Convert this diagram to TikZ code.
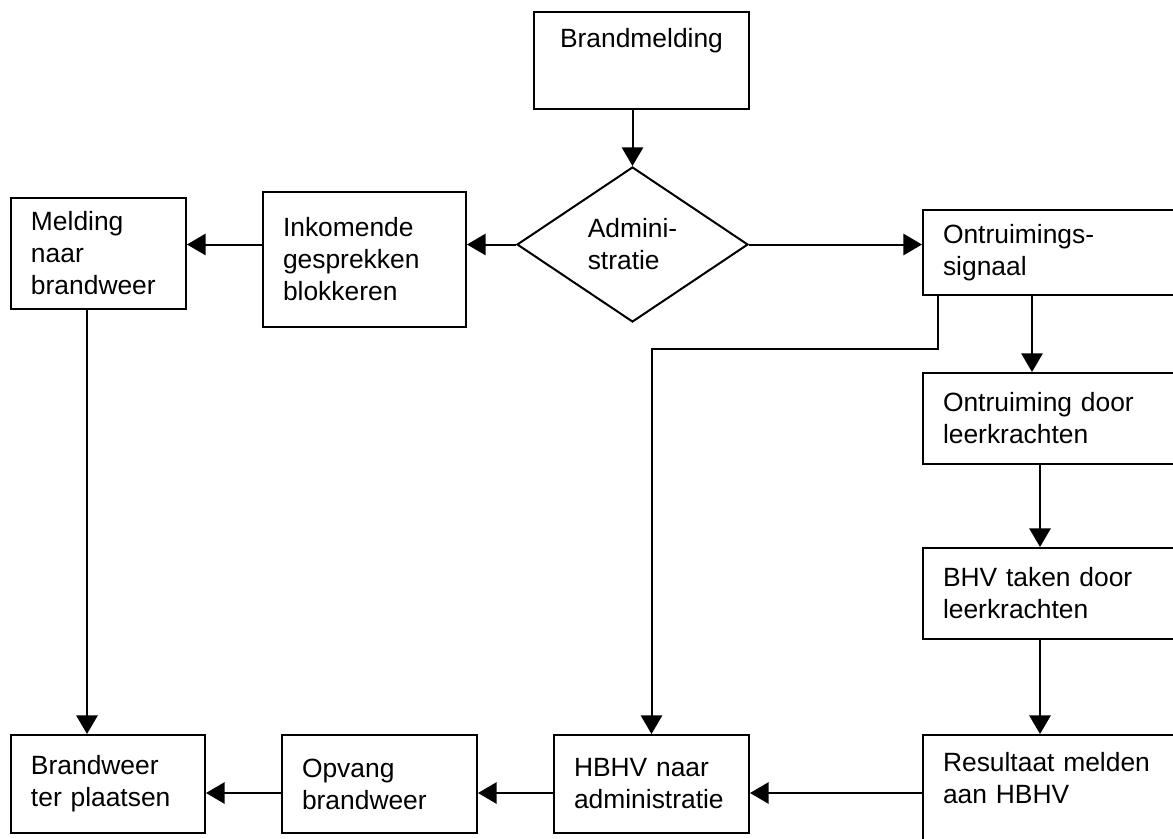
\documentclass[tikz,border=0pt]{standalone}
\usepackage{fontspec}
\setmainfont{Liberation Sans}
\usetikzlibrary{shapes.geometric,arrows.meta}

\tikzset{
  stap/.style={draw, line width=1.5pt, rectangle, inner xsep=15pt, inner ysep=0pt,
    align=left, font=\fontsize{19.8}{24}\selectfont},
  keuze/.style={draw, line width=1.5pt, diamond, inner sep=0pt,
    align=left, font=\fontsize{19.8}{24}\selectfont},
  pijl/.style={line width=1.5pt, -{Triangle[length=14pt,width=16pt]}}
}

\begin{document}
\begin{tikzpicture}[x=0.75pt,y=0.75pt,yscale=-1,xscale=1]
\useasboundingbox (0,0) rectangle (1173,838);
\clip (0,0) rectangle (1173,838);

%Shape: Square [brandmelding]
\node[stap, align=center, minimum width=161.25pt, minimum height=72.75pt, text width=131.25pt] (brandmelding) at (641.5,60.5) {Brandmelding\\[10pt] \mbox{}};
%Shape: Diamond [administratie]
\node[keuze, minimum width=173.25pt, minimum height=116.25pt] (administratie) at (632.5,244.5) {Admini-\\stratie};

%Shape: Square [left row]
\node[stap, minimum width=152.25pt, minimum height=101.25pt, text width=122.25pt] (inkomend) at (364.5,259.5) {Inkomende\\gesprekken\\blokkeren};
\node[stap, minimum width=131.25pt, minimum height=83.25pt, text width=101.25pt] (meldingbw) at (98.5,253.5) {Melding\\naar\\brandweer};

%Shape: Square [right column]
\node[stap, minimum width=200.25pt, minimum height=63.75pt, text width=170.25pt] (signaal) at (1056.5,252.5) {Ontruimings-\\signaal};
\node[stap, minimum width=200.25pt, minimum height=68.25pt, text width=170.25pt] (ontruiming) at (1056.5,418.5) {Ontruiming door\\leerkrachten};
\node[stap, minimum width=200.25pt, minimum height=68.25pt, text width=170.25pt] (bhvtaken) at (1056.5,593.5) {BHV taken door\\leerkrachten};
\node[stap, minimum width=200.25pt, minimum height=88.5pt, text width=170.25pt] (resultaat) at (1056.5,794) {Resultaat melden\\aan HBHV\\ \mbox{}};

%Shape: Square [bottom row]
\node[stap, minimum width=146.25pt, minimum height=73.5pt, text width=116.25pt] (hbhv) at (651.5,784) {HBHV naar\\administratie};
\node[stap, minimum width=146.25pt, minimum height=73.5pt, text width=116.25pt] (opvang) at (379.5,784) {Opvang\\brandweer};
\node[stap, minimum width=145.5pt, minimum height=73.5pt, text width=115.5pt] (brandweer) at (108,784) {Brandweer\\ter plaatsen};

\coordinate (rij) at (0,793);
\coordinate (knik) at (938,349);

%Straight Lines
\draw[pijl] (administratie.north |- brandmelding.south) -- (administratie.north);
\draw[pijl] (administratie.west) -- (administratie.west -| inkomend.east);
\draw[pijl] (inkomend.west |- administratie.west) -- (meldingbw.east |- administratie.west);
\draw[pijl] (administratie.east) -- (administratie.east -| signaal.west);
\draw[pijl] (knik |- signaal.south) -- (knik) -| (hbhv.north);

\draw[pijl] ([xshift=82.5pt]signaal.south west) -- ([xshift=82.5pt]ontruiming.north west);
\draw[pijl] ([xshift=88.5pt]ontruiming.south west) -- ([xshift=88.5pt]bhvtaken.north west);
\draw[pijl] ([xshift=88.5pt]bhvtaken.south west) -- ([xshift=88.5pt]resultaat.north west);
\draw[pijl] ([xshift=57.75pt]meldingbw.south west) -- ([xshift=57.75pt]brandweer.north west);

\draw[pijl] (resultaat.west |- rij) -- (hbhv.east |- rij);
\draw[pijl] (hbhv.west |- rij) -- (opvang.east |- rij);
\draw[pijl] (opvang.west |- rij) -- (brandweer.east |- rij);

\end{tikzpicture}
\end{document}
